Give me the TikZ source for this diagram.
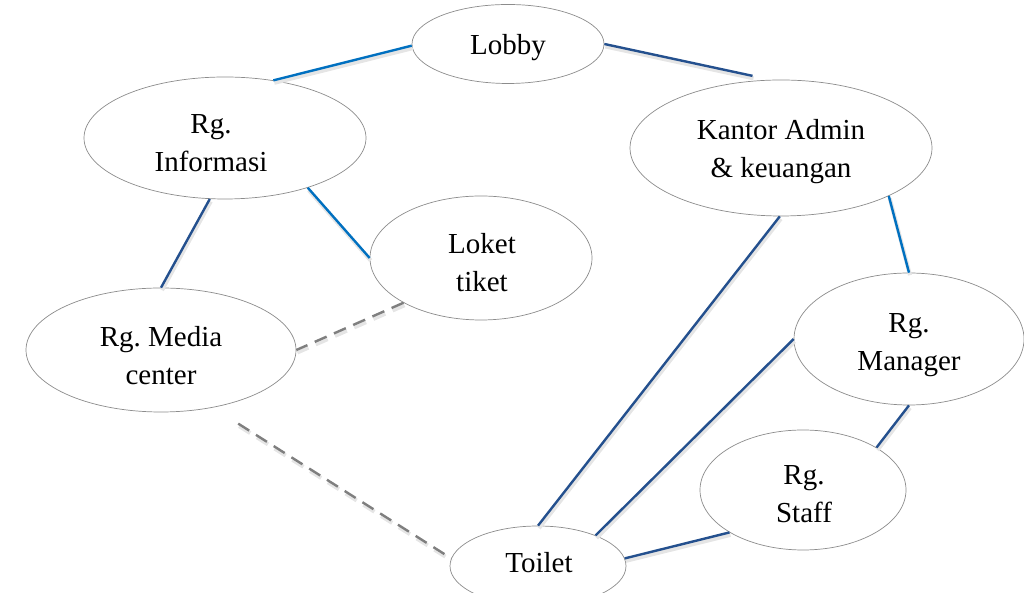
\documentclass[tikz,border=0pt]{standalone}
\usepackage{fontspec}
\setmainfont{Liberation Serif}
\usetikzlibrary{shapes.geometric}
\definecolor{lblue}{HTML}{0070C0}
\definecolor{dblue}{HTML}{24508E}
\definecolor{dgray}{HTML}{7F7F7F}
\definecolor{egray}{HTML}{8C8C8C}
\tikzset{
  room/.style={ellipse, draw=egray, line width=0.7pt, fill=white, inner sep=0pt},
  txt/.style={inner sep=0pt, align=center, font=\fontsize{29}{38}\selectfont\frenchspacing},
  edgeshadow/.style={preaction={draw=black!10, line width=4pt,
    transform canvas={xshift=1pt,yshift=-2.5pt}}},
  dashshadow/.style={preaction={draw=black!10, line width=4pt, dash pattern=on 13pt off 8pt,
    transform canvas={xshift=1pt,yshift=-2.5pt}}},
  lightlink/.style={draw=lblue, line width=2.4pt, edgeshadow},
  darklink/.style={draw=dblue, line width=2.4pt, edgeshadow},
  dashlink/.style={draw=dgray, line width=2.4pt, dash pattern=on 13pt off 8pt, dashshadow}
}
\begin{document}
\begin{tikzpicture}[x=1pt,y=1pt]
\useasboundingbox (0,0) rectangle (1024,593);
% rooms
\node[room, minimum width=192pt, minimum height=79pt] (L) at (508,549) {};
\node[room, minimum width=282pt, minimum height=122pt] (I) at (225,455) {};
\node[room, minimum width=222pt, minimum height=124pt] (T) at (481,335) {};
\node[room, minimum width=270pt, minimum height=124pt] (M) at (161,243) {};
\node[room, minimum width=302pt, minimum height=136pt] (K) at (781,445) {};
\node[room, minimum width=230pt, minimum height=132pt] (G) at (909,254) {};
\node[room, minimum width=206pt, minimum height=120pt] (S) at (803,103) {};
\node[room, minimum width=176pt, minimum height=80pt] (W) at (538,27) {};
% labels
\node[txt] (Ltext) at (508,545.5) {Lobby};
\node[txt] (Itext) at (211,450) {Rg.\\Informasi};
\node[txt] (Ttext) at (482,330) {Loket\\tiket};
\node[txt] (Mtext) at (161,237) {Rg. Media\\center};
\node[txt] (Ktext) at (781,441) {Kantor Admin\\\& keuangan};
\node[txt] (Gtext) at (909,248) {Rg.\\Manager};
\node[txt] (Stext) at (804,98.5) {Rg.\\Staff};
\node[txt] (Wtext) at (539,30) {Toilet};
% links
\path[lightlink] (L.181) -- (I.50.7);
\path[darklink] (L.0) -- ([yshift=5pt]K.113.3);
\path[darklink] (I.256.8) -- (M.90);
\path[lightlink] (I.-31) -- (T.180);
\path[dashlink] (T.210) -- (M.0);
\path[dashlink, shorten <=30pt] (M.-48.7) -- (W.175);
\path[darklink] (K.269) -- (W.90);
\path[lightlink] (K.-24.8) -- (G.90);
\path[darklink] (G.180) -- (W.28);
\path[darklink] (G.270) -- (S.30.5);
\path[darklink] (W.5) -- (S.210.5);
\end{tikzpicture}
\end{document}
